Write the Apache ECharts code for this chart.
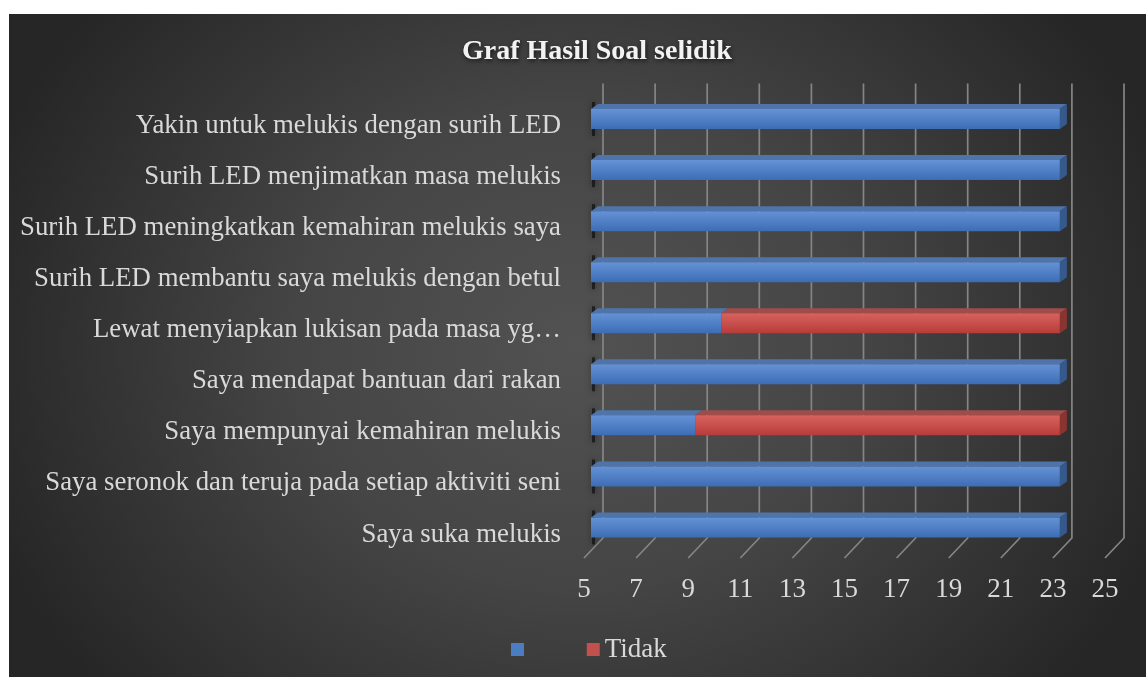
<!DOCTYPE html>
<html>
<head>
<meta charset="utf-8">
<script src="https://cdn.jsdelivr.net/npm/echarts@6/dist/echarts.min.js"></script>
<style>
  html, body { margin: 0; padding: 0; background: #fff; width: 1146px; height: 677px; overflow: hidden; }
  #wrap {
    position: absolute; left: 9px; top: 14px; width: 1137px; height: 663px;
    background: radial-gradient(ellipse 55% 80% at 50% 50%, #525252 0%, #454545 45%, #262626 100%);
  }
  #chart { width: 100%; height: 100%; }
</style>
</head>
<body>
<div id="wrap"><div id="chart"></div></div>
<script>
// --- data (bottom to top, as ECharts draws category axes) ---
const categories = [
  'Saya suka melukis',
  'Saya seronok dan teruja pada setiap aktiviti seni',
  'Saya mempunyai kemahiran melukis',
  'Saya mendapat bantuan dari rakan',
  'Lewat menyiapkan lukisan pada masa yg…',
  'Surih LED membantu saya melukis dengan betul',
  'Surih LED meningkatkan kemahiran melukis saya',
  'Surih LED menjimatkan masa melukis',
  'Yakin untuk melukis dengan surih LED'
]
const yaValues = [23, 23, 9, 23, 10, 23, 23, 23, 23]
const tidakValues = [0, 0, 14, 0, 13, 0, 0, 0, 0]
const tickLabels = [5, 7, 9, 11, 13, 15, 17, 19, 21, 23, 25]

// colours of the faux 3D bar faces
const BLUE = { front: ['#6592d6', '#3c6db5'], top: '#4e74a9', side: '#36598c', legend: '#4a7dc2' }
const RED = { front: ['#d8625f', '#b73c39'], top: '#a04c4a', side: '#8a3431', legend: '#c2504d' }

// stacked segments: [start, end, categoryIndex, isLast]
const yaSegments = yaValues.map((v, i) => [0, v, i, tidakValues[i] ? 0 : 1])
const tidakSegments = []
tidakValues.forEach((v, i) => {
  if (v) tidakSegments.push([yaValues[i], yaValues[i] + v, i, 1])
})

const chart = echarts.init(document.getElementById('chart'))

// back wall grid lines with the floor diagonal
const renderWall = (params, api) => {
  const cs = params.coordSys
  const x = api.coord([api.value(0), 0])[0]
  const top = cs.y - 10
  const wallBottom = cs.y + cs.height - 15
  const floor = cs.y + cs.height + 5
  return {
    type: 'polyline',
    silent: true,
    shape: { points: [[x + 12, top], [x + 12, wallBottom], [x - 7, floor]] },
    style: { stroke: '#858585', lineWidth: 1.7, fill: null }
  }
}

const makeBar = (pal) => (params, api) => {
  const cs = params.coordSys
  const cat = api.value(2)
  const p0 = api.coord([api.value(0), cat])
  const p1 = api.coord([api.value(1), cat])
  const clipped = p0[0] <= cs.x
  const x0 = Math.max(p0[0], cs.x)
  const x1 = p1[0]
  const yc = p0[1]
  const h = 20, dx = 7, dy = 5
  const yt = yc - h / 2, yb = yc + h / 2
  const children = []
  if (clipped) {
    children.push({
      type: 'rect',
      shape: { x: x0 + 1, y: yc - 17, width: 3, height: 34 },
      style: { fill: 'rgba(0,0,0,0.55)', shadowBlur: 6, shadowColor: 'rgba(0,0,0,0.8)' }
    })
  }
  children.push({
    type: 'polygon',
    shape: { points: [[x0, yt], [x0 + dx, yt - dy], [x1 + dx, yt - dy], [x1, yt]] },
    style: { fill: pal.top }
  })
  children.push({
    type: 'rect',
    shape: { x: x0, y: yt, width: x1 - x0, height: h },
    style: {
      fill: new echarts.graphic.LinearGradient(0, 0, 0, 1, [
        { offset: 0, color: pal.front[0] },
        { offset: 1, color: pal.front[1] }
      ])
    }
  })
  if (api.value(3) === 1) {
    children.push({
      type: 'polygon',
      shape: { points: [[x1, yt], [x1 + dx, yt - dy], [x1 + dx, yb - dy], [x1, yb]] },
      style: { fill: pal.side }
    })
  }
  return { type: 'group', children }
}

const labelFont = 'Liberation Serif, Times New Roman, serif'

const option = {
  backgroundColor: 'transparent',
  animation: false,
  title: {
    text: 'Graf Hasil Soal selidik',
    left: 448,
    top: 19,
    textStyle: {
      color: '#f2f2f2',
      fontFamily: labelFont,
      fontWeight: 'bold',
      fontSize: 28,
      textShadowColor: 'rgba(0,0,0,0.65)',
      textShadowBlur: 4,
      textShadowOffsetX: 1,
      textShadowOffsetY: 2
    }
  },
  legend: {
    left: 497,
    top: 617,
    icon: 'rect',
    itemWidth: 13,
    itemHeight: 13,
    itemGap: 51,
    data: [' ', 'Tidak'],
    textStyle: { color: '#d9d9d9', fontFamily: labelFont, fontSize: 27 }
  },
  grid: { left: 582, right: 34, top: 79.5, bottom: 124 },
  xAxis: {
    type: 'value',
    min: 5,
    max: 25,
    interval: 2,
    axisLine: { show: false },
    axisTick: { show: false },
    splitLine: { show: false },
    axisLabel: {
      color: '#d9d9d9',
      fontFamily: labelFont,
      fontSize: 27,
      margin: 23,
      padding: [0, 14, 0, 0]
    }
  },
  yAxis: {
    type: 'category',
    data: categories,
    axisLine: { show: false },
    axisTick: { show: false },
    axisLabel: {
      color: '#d9d9d9',
      fontFamily: labelFont,
      fontSize: 26.8,
      margin: 30,
      verticalAlign: 'top',
      lineHeight: 14
    }
  },
  series: [
    {
      type: 'custom',
      name: 'wall',
      silent: true,
      clip: false,
      z: 1,
      renderItem: renderWall,
      data: tickLabels.map(v => [v, 0]),
      encode: { x: 0, y: 1 }
    },
    {
      type: 'custom',
      name: ' ',
      clip: false,
      z: 2,
      itemStyle: { color: BLUE.legend },
      renderItem: makeBar(BLUE),
      data: yaSegments,
      encode: { x: [0, 1], y: 2 }
    },
    {
      type: 'custom',
      name: 'Tidak',
      clip: false,
      z: 3,
      itemStyle: { color: RED.legend },
      renderItem: makeBar(RED),
      data: tidakSegments,
      encode: { x: [0, 1], y: 2 }
    }
  ]
}

chart.setOption(option)
window.addEventListener('resize', () => chart.resize())
</script>
</body>
</html>
